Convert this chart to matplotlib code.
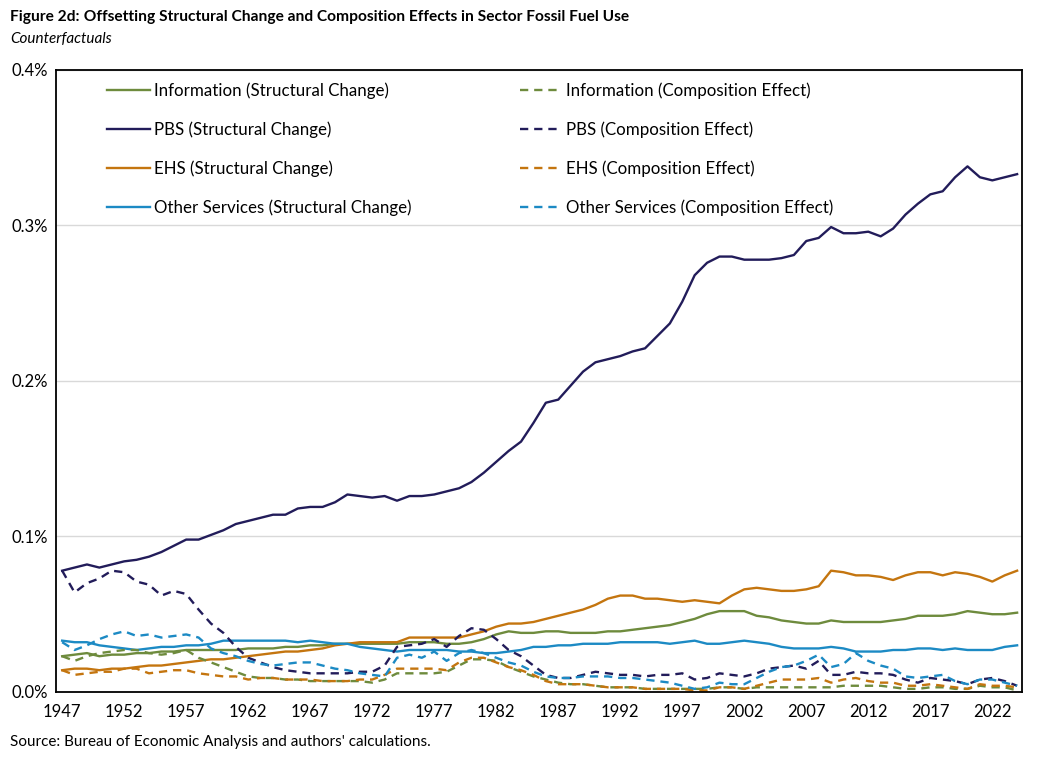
import matplotlib
matplotlib.use("Agg")
import matplotlib.pyplot as plt
import numpy as np

years = np.arange(1947, 2025)

info_sc = [0.023, 0.024, 0.025, 0.023, 0.024, 0.024, 0.025, 0.025, 0.026, 0.026,
           0.027, 0.027, 0.027, 0.027, 0.027, 0.028, 0.028, 0.028, 0.029, 0.029,
           0.030, 0.030, 0.031, 0.031, 0.031, 0.031, 0.031, 0.031, 0.032, 0.032,
           0.032, 0.031, 0.031, 0.032, 0.034, 0.037, 0.039, 0.038, 0.038, 0.039,
           0.039, 0.038, 0.038, 0.038, 0.039, 0.039, 0.040, 0.041, 0.042, 0.043,
           0.045, 0.047, 0.050, 0.052, 0.052, 0.052, 0.049, 0.048, 0.046, 0.045,
           0.044, 0.044, 0.046, 0.045, 0.045, 0.045, 0.045, 0.046, 0.047, 0.049,
           0.049, 0.049, 0.050, 0.052, 0.051, 0.050, 0.050, 0.051]
pbs_sc = [0.078, 0.080, 0.082, 0.080, 0.082, 0.084, 0.085, 0.087, 0.090, 0.094,
          0.098, 0.098, 0.101, 0.104, 0.108, 0.110, 0.112, 0.114, 0.114, 0.118,
          0.119, 0.119, 0.122, 0.127, 0.126, 0.125, 0.126, 0.123, 0.126, 0.126,
          0.127, 0.129, 0.131, 0.135, 0.141, 0.148, 0.155, 0.161, 0.173, 0.186,
          0.188, 0.197, 0.206, 0.212, 0.214, 0.216, 0.219, 0.221, 0.229, 0.237,
          0.251, 0.268, 0.276, 0.280, 0.280, 0.278, 0.278, 0.278, 0.279, 0.281,
          0.290, 0.292, 0.299, 0.295, 0.295, 0.296, 0.293, 0.298, 0.307, 0.314,
          0.320, 0.322, 0.331, 0.338, 0.331, 0.329, 0.331, 0.333]
ehs_sc = [0.014, 0.015, 0.015, 0.014, 0.015, 0.015, 0.016, 0.017, 0.017, 0.018,
          0.019, 0.020, 0.021, 0.021, 0.022, 0.023, 0.024, 0.025, 0.026, 0.026,
          0.027, 0.028, 0.030, 0.031, 0.032, 0.032, 0.032, 0.032, 0.035, 0.035,
          0.035, 0.035, 0.035, 0.037, 0.039, 0.042, 0.044, 0.044, 0.045, 0.047,
          0.049, 0.051, 0.053, 0.056, 0.060, 0.062, 0.062, 0.060, 0.060, 0.059,
          0.058, 0.059, 0.058, 0.057, 0.062, 0.066, 0.067, 0.066, 0.065, 0.065,
          0.066, 0.068, 0.078, 0.077, 0.075, 0.075, 0.074, 0.072, 0.075, 0.077,
          0.077, 0.075, 0.077, 0.076, 0.074, 0.071, 0.075, 0.078]
oth_sc = [0.033, 0.032, 0.032, 0.030, 0.029, 0.028, 0.027, 0.028, 0.029, 0.029,
          0.030, 0.030, 0.031, 0.033, 0.033, 0.033, 0.033, 0.033, 0.033, 0.032,
          0.033, 0.032, 0.031, 0.031, 0.029, 0.028, 0.027, 0.026, 0.027, 0.027,
          0.027, 0.027, 0.026, 0.026, 0.025, 0.025, 0.026, 0.027, 0.029, 0.029,
          0.030, 0.030, 0.031, 0.031, 0.031, 0.032, 0.032, 0.032, 0.032, 0.031,
          0.032, 0.033, 0.031, 0.031, 0.032, 0.033, 0.032, 0.031, 0.029, 0.028,
          0.028, 0.028, 0.029, 0.028, 0.026, 0.026, 0.026, 0.027, 0.027, 0.028,
          0.028, 0.027, 0.028, 0.027, 0.027, 0.027, 0.029, 0.030]

info_ce = [0.023, 0.020, 0.023, 0.025, 0.026, 0.027, 0.027, 0.025, 0.024, 0.025,
           0.027, 0.022, 0.019, 0.016, 0.013, 0.010, 0.009, 0.009, 0.008, 0.008,
           0.007, 0.007, 0.007, 0.007, 0.007, 0.006, 0.008, 0.012, 0.012, 0.012,
           0.012, 0.013, 0.017, 0.021, 0.021, 0.020, 0.016, 0.013, 0.010, 0.008,
           0.006, 0.005, 0.005, 0.004, 0.003, 0.003, 0.003, 0.002, 0.002, 0.002,
           0.002, 0.002, 0.002, 0.003, 0.003, 0.002, 0.003, 0.003, 0.003, 0.003,
           0.003, 0.003, 0.003, 0.004, 0.004, 0.004, 0.004, 0.003, 0.002, 0.002,
           0.003, 0.003, 0.002, 0.002, 0.004, 0.003, 0.003, 0.001]
pbs_ce = [0.078, 0.064, 0.070, 0.073, 0.078, 0.077, 0.071, 0.069, 0.062, 0.065,
          0.063, 0.053, 0.044, 0.038, 0.029, 0.022, 0.019, 0.016, 0.014, 0.013,
          0.012, 0.012, 0.012, 0.012, 0.013, 0.013, 0.017, 0.029, 0.030, 0.031,
          0.034, 0.029, 0.036, 0.041, 0.040, 0.034, 0.027, 0.023, 0.017, 0.011,
          0.009, 0.009, 0.011, 0.013, 0.012, 0.011, 0.011, 0.010, 0.011, 0.011,
          0.012, 0.008, 0.009, 0.012, 0.011, 0.010, 0.012, 0.015, 0.016, 0.017,
          0.015, 0.020, 0.011, 0.011, 0.013, 0.012, 0.012, 0.011, 0.008, 0.006,
          0.009, 0.008, 0.007, 0.005, 0.008, 0.009, 0.007, 0.004]
ehs_ce = [0.014, 0.011, 0.012, 0.013, 0.013, 0.015, 0.015, 0.012, 0.013, 0.014,
          0.014, 0.012, 0.011, 0.010, 0.010, 0.008, 0.009, 0.009, 0.008, 0.008,
          0.008, 0.007, 0.007, 0.007, 0.008, 0.008, 0.011, 0.015, 0.015, 0.015,
          0.015, 0.014, 0.019, 0.022, 0.022, 0.019, 0.016, 0.014, 0.011, 0.007,
          0.005, 0.005, 0.005, 0.004, 0.003, 0.003, 0.003, 0.002, 0.002, 0.002,
          0.002, 0.001, 0.001, 0.003, 0.003, 0.002, 0.004, 0.006, 0.008, 0.008,
          0.008, 0.009, 0.006, 0.008, 0.009, 0.007, 0.006, 0.006, 0.004, 0.004,
          0.005, 0.004, 0.003, 0.002, 0.005, 0.004, 0.004, 0.003]
oth_ce = [0.032, 0.027, 0.030, 0.034, 0.037, 0.039, 0.036, 0.037, 0.035, 0.036,
          0.037, 0.035, 0.028, 0.025, 0.023, 0.020, 0.018, 0.017, 0.018, 0.019,
          0.019, 0.017, 0.015, 0.014, 0.012, 0.011, 0.010, 0.022, 0.024, 0.022,
          0.026, 0.020, 0.025, 0.027, 0.025, 0.022, 0.019, 0.017, 0.013, 0.010,
          0.009, 0.009, 0.010, 0.010, 0.010, 0.009, 0.009, 0.008, 0.007, 0.006,
          0.004, 0.002, 0.003, 0.006, 0.005, 0.005, 0.009, 0.013, 0.016, 0.017,
          0.020, 0.024, 0.016, 0.018, 0.025, 0.020, 0.017, 0.015, 0.010, 0.009,
          0.010, 0.011, 0.007, 0.005, 0.008, 0.008, 0.006, 0.004]

sectors = ["Information", "PBS", "EHS", "Other Services"]
colors = ["#6E8B3D", "#221C5A", "#C4750F", "#1C8AC4"]
sc_series = [info_sc, pbs_sc, ehs_sc, oth_sc]
ce_series = [info_ce, pbs_ce, ehs_ce, oth_ce]

plt.rcParams['font.family'] = ['Lato', 'DejaVu Sans']

fig = plt.figure(figsize=(10.44, 7.58), dpi=100)
ax = fig.add_axes([0.0536, 0.0871, 0.9254, 0.8206])

for name, c, s in zip(sectors, colors, sc_series):
    ax.plot(years, s, color=c, lw=1.7, label=f"{name} (Structural Change)")
for name, c, s in zip(sectors, colors, ce_series):
    ax.plot(years, s, color=c, lw=1.7, ls=(0, (3.5, 2.5)),
            label=f"{name} (Composition Effect)")

ax.set_xlim(1946.5, 2024.4)
ax.set_ylim(0, 0.4)
ax.set_yticks([0, 0.1, 0.2, 0.3, 0.4])
ax.set_yticklabels(["0.0%", "0.1%", "0.2%", "0.3%", "0.4%"])
ax.set_xticks(np.arange(1947, 2023, 5))
ax.tick_params(axis='both', length=0, labelsize=12, colors='black')
ax.tick_params(axis='x', pad=9)
ax.tick_params(axis='y', pad=6)
ax.grid(axis='y', color='#D9D9D9', lw=1)
ax.set_axisbelow(True)
for sp in ax.spines.values():
    sp.set_linewidth(1.3)
    sp.set_color('black')

ax.legend(ncol=2, loc='upper left', bbox_to_anchor=(0.040, 1.0), frameon=False,
          fontsize=12.2, handlelength=2.5, handletextpad=0.25, borderpad=0.25,
          labelspacing=1.32, columnspacing=6.4)

t = fig.text(0.0096, 0.972, "Figure 2d:", fontsize=11.2, fontweight='bold',
             va='baseline')
ax.annotate(" Offsetting Structural Change and Composition Effects in Sector Fossil Fuel Use",
            xy=(1, 0), xycoords=t, va='bottom', fontsize=11.2, fontweight='bold',
            annotation_clip=False)
fig.text(0.0096, 0.943, "Counterfactuals", fontsize=11, style='italic',
         va='baseline')
fig.text(0.0096, 0.016, "Source: Bureau of Economic Analysis and authors' calculations.",
         fontsize=11, va='baseline')

fig.savefig("out.png", dpi=100)
